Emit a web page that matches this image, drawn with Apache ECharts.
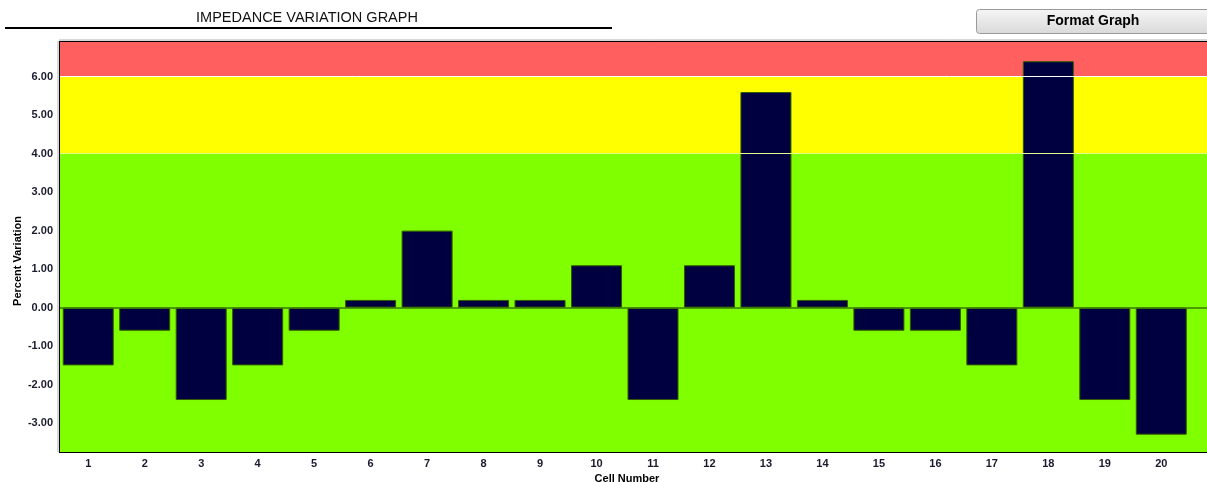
<!DOCTYPE html>
<html><head><meta charset="utf-8">
<script src="https://cdn.jsdelivr.net/npm/echarts@6/dist/echarts.min.js"></script>
<style>html,body{margin:0;padding:0;background:#fff;overflow:hidden;width:1207px;height:482px}#c{width:1246px;height:482px}</style>
</head><body><div id="c"></div>
<script>
const categories = ['1','2','3','4','5','6','7','8','9','10','11','12','13','14','15','16','17','18','19','20'];
const values = [-1.5,-0.6,-2.4,-1.5,-0.6,0.2,2.0,0.2,0.2,1.1,-2.4,1.1,5.6,0.2,-0.6,-0.6,-1.5,6.4,-2.4,-3.3];
const yTicks = [-3,-2,-1,0,1,2,3,4,5,6];
const yMin = -3.75, yMax = 6.9;
const zoneLimits = [yMin, 4, 6, yMax];
const zoneColors = ['#80FF00', '#FFFF00', '#FF5F5F'];

const axisData = categories.concat(['']);
const areas = zoneColors.map((c, i) => [{yAxis: zoneLimits[i], itemStyle: {color: c}}, {yAxis: zoneLimits[i + 1]}]);
const font = '"Liberation Sans", Arial, sans-serif';

const chart = echarts.init(document.getElementById('c'), null, {renderer: 'canvas'});
chart.setOption({
  animation: false,
  grid: {left: 60, top: 42, bottom: 30, right: 0, show: true, borderColor: '#000', borderWidth: 2, backgroundColor: 'transparent'},
  xAxis: {
    type: 'category', data: axisData,
    axisLine: {show: true, onZero: false, lineStyle: {color: '#000', width: 2}},
    axisTick: {show: false},
    axisLabel: {color: '#1a1a2e', fontFamily: font, fontWeight: 'bold', fontSize: 11, margin: 6},
    splitLine: {show: false}
  },
  yAxis: {
    type: 'value', min: yMin, max: yMax,
    axisLine: {show: true, lineStyle: {color: '#000', width: 2}},
    axisTick: {show: true, inside: true, length: 8, customValues: yTicks, lineStyle: {color: '#000', width: 1}},
    axisLabel: {customValues: yTicks, formatter: v => v.toFixed(2), color: '#1a1a2e', fontFamily: font, fontWeight: 'bold', fontSize: 11, margin: 7},
    splitLine: {show: false}
  },
  series: [
    {
      type: 'line', data: [], z: 1, silent: true,
      markArea: {silent: true, data: areas},
      markLine: {silent: true, symbol: 'none', label: {show: false},
        data: [{yAxis: 6, lineStyle: {color: '#ffffff', width: 1, type: 'solid'}},
               {yAxis: 4, lineStyle: {color: '#e4ff88', width: 1, type: 'solid'}}]}
    },
    {
      type: 'bar', data: values, z: 3, barWidth: 51,
      itemStyle: {color: '#000040', borderColor: '#2f5a00', borderWidth: 1},
      markLine: {silent: true, symbol: 'none', label: {show: false},
        data: [{yAxis: 0, lineStyle: {color: '#3a7800', width: 1.5, type: 'solid'}}]}
    }
  ],
  graphic: [
    {type: 'text', x: 307, y: 18, style: {text: 'IMPEDANCE VARIATION GRAPH', font: '14.5px ' + font, fill: '#111', align: 'center', verticalAlign: 'middle'}},
    {type: 'line', shape: {x1: 5, y1: 28, x2: 612, y2: 28}, style: {stroke: '#000', lineWidth: 2}},
    {type: 'rect', shape: {x: 976.5, y: 9.5, width: 240, height: 24, r: 3},
      style: {stroke: '#9a9a9a', lineWidth: 1,
        fill: new echarts.graphic.LinearGradient(0, 0, 0, 1, [{offset: 0, color: '#f6f6f6'}, {offset: 1, color: '#d9d9d9'}])}},
    {type: 'text', x: 1093, y: 21, style: {text: 'Format Graph', font: 'bold 14px ' + font, fill: '#000', align: 'center', verticalAlign: 'middle'}},
    {type: 'line', shape: {x1: 59, y1: 40, x2: 1246, y2: 40}, style: {stroke: '#b0b0b0', lineWidth: 1}},
    {type: 'line', shape: {x1: 58, y1: 41, x2: 58, y2: 452}, style: {stroke: '#b0b0b0', lineWidth: 1}},
    {type: 'text', x: 18, y: 261, rotation: Math.PI / 2, style: {text: 'Percent Variation', font: 'bold 11px ' + font, fill: '#000', align: 'center', verticalAlign: 'middle'}},
    {type: 'text', x: 627, y: 479, style: {text: 'Cell Number', font: 'bold 11px ' + font, fill: '#000', align: 'center', verticalAlign: 'middle'}}
  ]
});
</script></body></html>
